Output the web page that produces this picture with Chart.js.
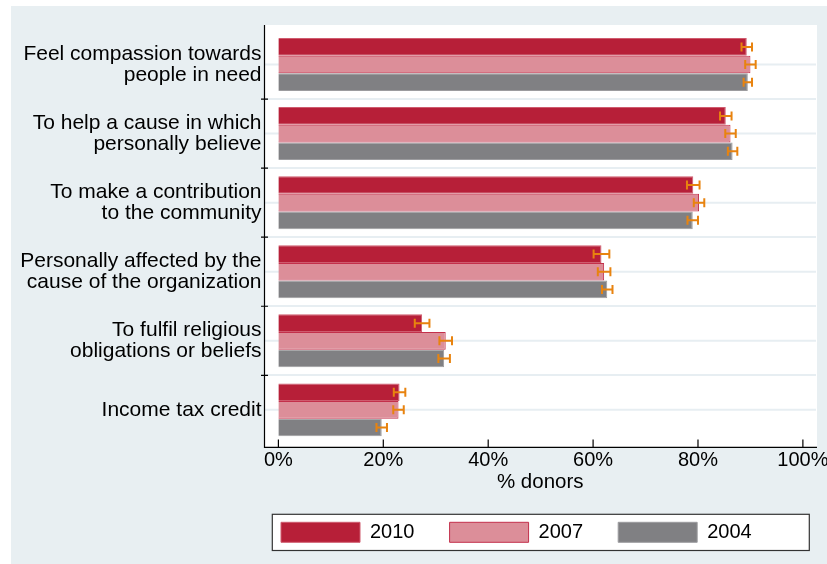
<!DOCTYPE html>
<html>
<head>
<meta charset="utf-8">
<script src="https://cdn.jsdelivr.net/npm/chart.js@4.4.1/dist/chart.umd.min.js"></script>
<style>
  html, body { margin: 0; padding: 0; background: #fff; }
  #wrap { position: absolute; left: 11px; top: 6px; width: 816px; height: 558px; background: #e8eff2; }
</style>
</head>
<body>
<div id="wrap"><canvas id="chart"></canvas></div>
<script>
const categories = [
  ['Feel compassion towards', 'people in need'],
  ['To help a cause in which', 'personally believe'],
  ['To make a contribution', 'to the community'],
  ['Personally affected by the', 'cause of the organization'],
  ['To fulfil religious', 'obligations or beliefs'],
  'Income tax credit'
]
const years = ['2010', '2007', '2004']
const values2010 = [89.3, 85.3, 79.1, 61.6, 27.4, 23.1]
const values2007 = [90.0, 86.2, 80.2, 62.1, 31.9, 22.9]
const values2004 = [89.5, 86.6, 79.0, 62.7, 31.6, 19.7]
// half width of the confidence interval, in points
const errors2010 = [1.0, 1.1, 1.2, 1.5, 1.4, 1.1]
const errors2007 = [1.0, 1.0, 1.0, 1.2, 1.2, 1.0]
const errors2004 = [0.8, 0.9, 1.0, 1.0, 1.1, 1.0]
const xTicks = [0, 20, 40, 60, 80, 100]

Chart.defaults.font.family = "'Liberation Sans', Arial, Helvetica, sans-serif"
Chart.defaults.color = '#000'

const legendPad = 35.1
const legendStart = 270

const legendFrame = (chart) => {
  const first = chart.legend.legendHitBoxes[0]
  const x = first.left - 8.7
  return { x, y: first.top - 8, w: chart.chartArea.right - 6.7 - x, h: 36.2 }
}

// stata style frame: white plot region, axes, inward ticks, error bars
const stataFrame = {
  id: 'stataFrame',
  afterLayout: (chart) => {
    // legend sits under the plot region, not under the whole graph
    const legend = chart.legend
    legend.left = legendStart - legendPad
    legend.width = legend.right - legend.left
  },
  beforeDraw: (chart) => {
    const { ctx, chartArea: a } = chart
    const f = legendFrame(chart)
    ctx.save()
    ctx.fillStyle = '#fff'
    ctx.fillRect(a.left, a.top - 5, a.right - a.left + 1, a.bottom - a.top + 8)
    ctx.fillRect(f.x, f.y, f.w, f.h)
    ctx.restore()
  },
  beforeDatasetsDraw: (chart) => {
    const { ctx, chartArea: a } = chart
    const y = chart.scales.y
    ctx.save()
    ctx.strokeStyle = '#e7eef2'
    ctx.lineWidth = 2
    ctx.beginPath()
    categories.forEach((c, i) => {
      const py = y.getPixelForValue(i)
      ctx.moveTo(a.left, py)
      ctx.lineTo(a.right, py)
    })
    ctx.stroke()
    ctx.restore()
  },
  afterDatasetsDraw: (chart) => {
    const { ctx } = chart
    const x = chart.scales.x
    ctx.save()
    ctx.strokeStyle = '#e8830f'
    ctx.lineWidth = 2
    chart.data.datasets.forEach((ds, i) => {
      chart.getDatasetMeta(i).data.forEach((bar, j) => {
        const lo = x.getPixelForValue(ds.data[j] - ds.errors[j])
        const hi = x.getPixelForValue(ds.data[j] + ds.errors[j])
        ctx.beginPath()
        ctx.moveTo(lo, bar.y)
        ctx.lineTo(hi, bar.y)
        ctx.moveTo(lo, bar.y - 4.5)
        ctx.lineTo(lo, bar.y + 4.5)
        ctx.moveTo(hi, bar.y - 4.5)
        ctx.lineTo(hi, bar.y + 4.5)
        ctx.stroke()
      })
    })
    ctx.restore()
  },
  afterDraw: (chart) => {
    const { ctx, chartArea: a } = chart
    const x = chart.scales.x
    const y = chart.scales.y
    const axisY = a.bottom + 3
    ctx.save()
    ctx.strokeStyle = '#000'
    ctx.lineWidth = 1.2
    ctx.beginPath()
    ctx.moveTo(a.left, a.top - 5)
    ctx.lineTo(a.left, axisY)
    ctx.lineTo(a.right + 1, axisY)
    xTicks.forEach((v) => {
      const px = x.getPixelForValue(v)
      ctx.moveTo(px, axisY)
      ctx.lineTo(px, axisY - 8)
    })
    for (let i = 1; i < categories.length; i++) {
      const py = (y.getPixelForValue(i - 1) + y.getPixelForValue(i)) / 2
      ctx.moveTo(a.left - 3.5, py)
      ctx.lineTo(a.left + 3.5, py)
    }
    ctx.stroke()
    const f = legendFrame(chart)
    ctx.strokeStyle = '#333'
    ctx.strokeRect(f.x, f.y, f.w, f.h)
    ctx.restore()
  }
}

new Chart(document.getElementById('chart'), {
  type: 'bar',
  data: {
    labels: categories,
    datasets: [
      { label: years[0], data: values2010, errors: errors2010, backgroundColor: '#b71f38', borderColor: '#cf5c6f', borderWidth: 1 },
      { label: years[1], data: values2007, errors: errors2007, backgroundColor: '#dc8e99', borderColor: '#c3304b', borderWidth: 1 },
      { label: years[2], data: values2004, errors: errors2004, backgroundColor: '#808083', borderColor: '#9c9c9f', borderWidth: 1 }
    ]
  },
  options: {
    indexAxis: 'y',
    responsive: true,
    maintainAspectRatio: false,
    animation: false,
    datasets: { bar: { categoryPercentage: 0.767, barPercentage: 1 } },
    layout: { padding: { top: 24, left: 0, right: 11, bottom: 11.7 } },
    plugins: {
      legend: {
        position: 'bottom',
        align: 'start',
        labels: { boxWidth: 79, boxHeight: 20, padding: legendPad, color: '#000', font: { size: 20 } }
      },
      tooltip: { enabled: false }
    },
    scales: {
      x: {
        min: -2.65,
        max: 102.5,
        afterBuildTicks: (scale) => { scale.ticks = xTicks.map((v) => ({ value: v })) },
        afterFit: (scale) => { scale.height = 42.8; scale.paddingLeft = 0; scale.paddingRight = 0 },
        ticks: { callback: (v) => v + '%', padding: 4.4, font: { size: 20 }, maxRotation: 0, autoSkip: false },
        grid: { display: false, drawTicks: false },
        border: { display: false },
        title: { display: true, text: '% donors', font: { size: 20.5, lineHeight: 1 }, padding: { top: 0, bottom: -5.3 } }
      },
      y: {
        afterFit: (scale) => { scale.width = 253.5; scale.paddingTop = 0; scale.paddingBottom = 0 },
        ticks: { font: { size: 21, lineHeight: 1.02 }, padding: 3, autoSkip: false },
        grid: {
          offset: true,
          drawTicks: false,
          lineWidth: 2,
          color: (c) => (c.index > 0 && c.index < categories.length) ? '#e7eef2' : 'rgba(0,0,0,0)'
        },
        border: { display: false }
      }
    }
  },
  plugins: [stataFrame]
})
</script>
</body>
</html>
